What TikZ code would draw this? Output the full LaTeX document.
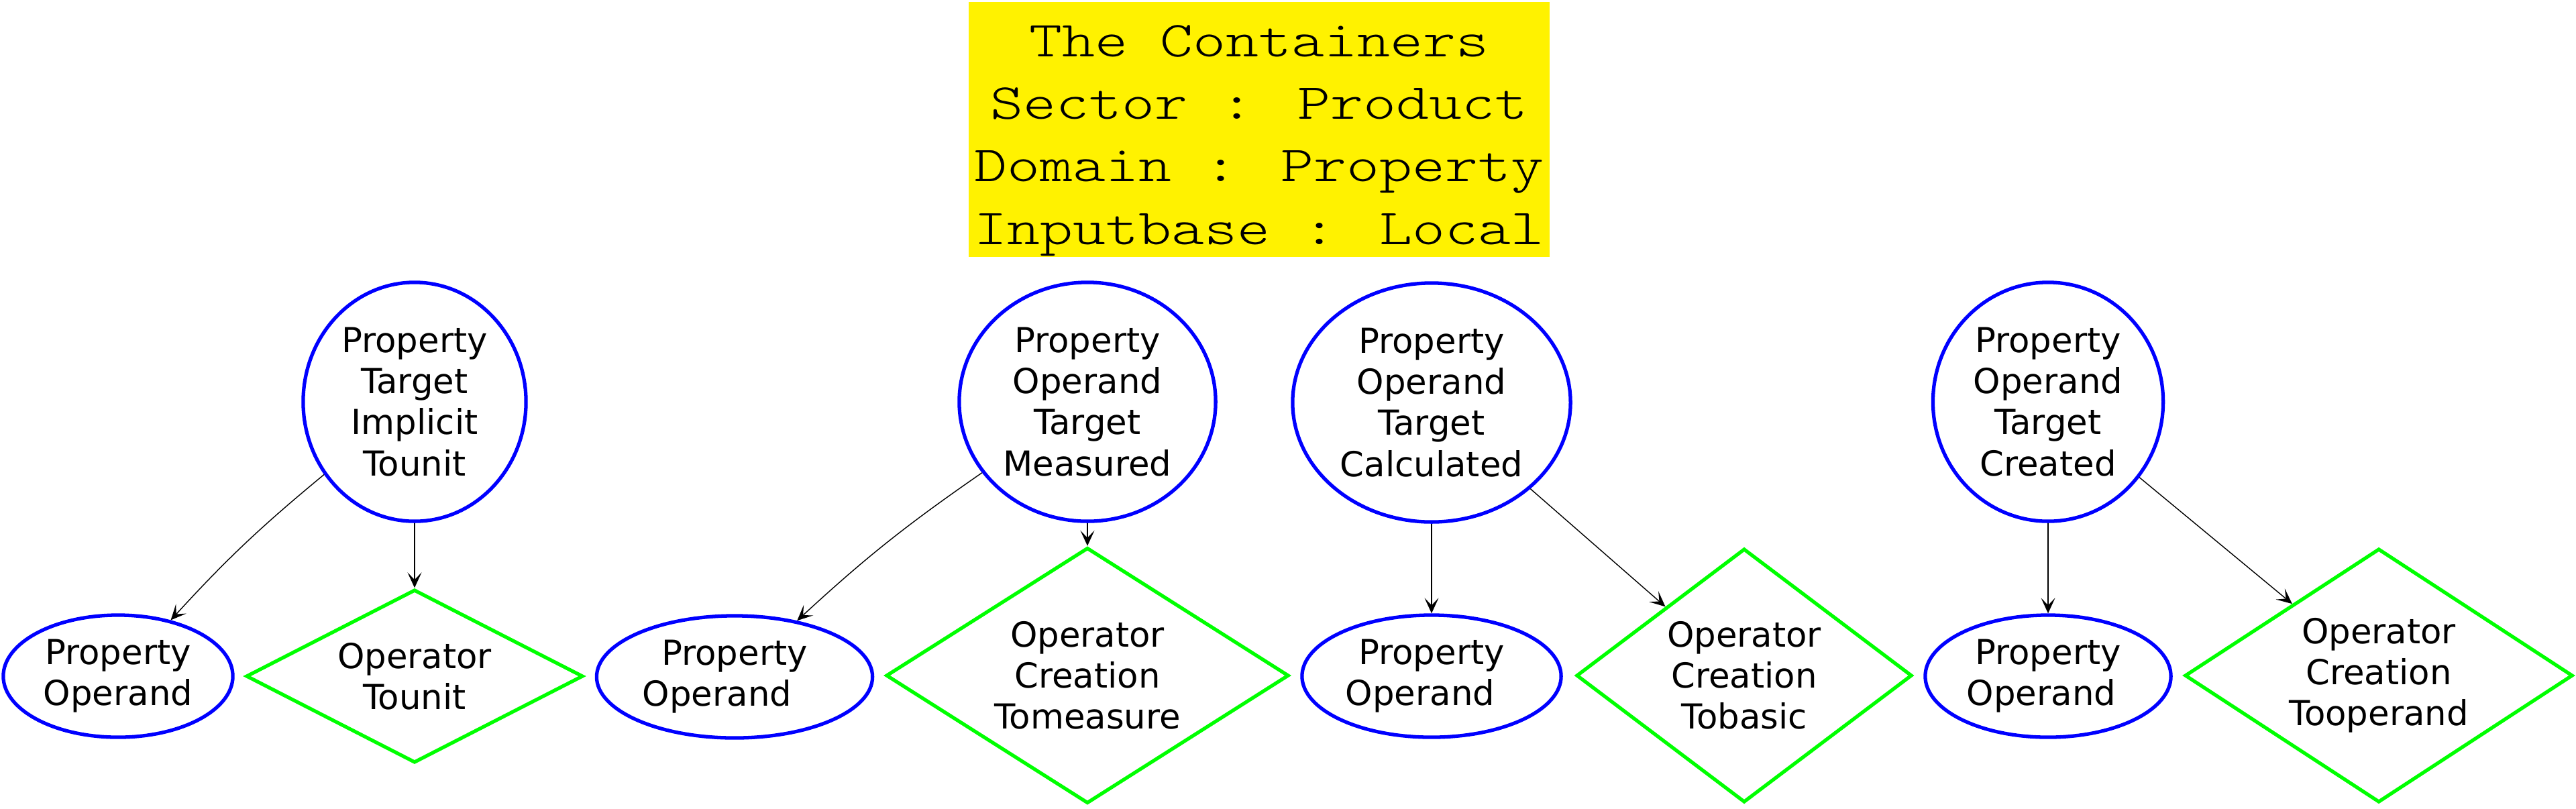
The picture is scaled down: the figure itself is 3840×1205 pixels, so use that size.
\documentclass[tikz,border=0pt]{standalone}
\usepackage{fontspec}
\setmainfont{DejaVu Sans}
\newfontfamily\titlefont{lmmonolt10-regular.otf}[FakeStretch=1.24]
\usetikzlibrary{shapes.geometric,arrows.meta}

\newcommand{\nodefont}{\fontsize{14.6pt}{17.4pt}\selectfont}
\newcommand{\headfont}{\titlefont\fontsize{21.4pt}{26.5pt}\selectfont}

\tikzstyle{header}=[rectangle, fill=yellow, inner sep=0pt, minimum width=8.65cm, minimum height=3.8cm, align=center, font=\headfont]
\tikzstyle{prop}=[ellipse, draw=blue, line width=1.5pt, inner sep=0pt, align=center, font=\nodefont]
\tikzstyle{oper}=[diamond, draw=green, line width=1.5pt, inner sep=0pt, align=center, font=\nodefont]
\tikzstyle{arrow}=[line width=0.4pt, -{Stealth[length=0.23cm, width=0.21cm, inset=0.11cm]}]

\begin{document}
\begin{tikzpicture}[x=0.01cm, y=-0.01cm]
\useasboundingbox (0,0) rectangle (3840,1205);
\node (title) [header] at (1877,193) {\rule{0pt}{0.8cm}The Containers\\Sector : Product\\Domain : Property\\Inputbase : Local};

\node (tgtA) [prop, minimum width=3.32cm, minimum height=3.56cm] at (618,599) {Property\\Target\\Implicit\\Tounit};
\node (opdA) [prop, minimum width=3.42cm, minimum height=1.82cm] at (176,1008) {Property\\Operand};
\node (optA) [oper, minimum width=5.02cm, minimum height=2.58cm, aspect=1.93] at (618,1008) {Operator\\Tounit};

\node (tgtB) [prop, minimum width=3.82cm, minimum height=3.56cm] at (1621,599) {Property\\Operand\\Target\\Measured};
\node (opdB) [prop, minimum width=4.11cm, minimum height=1.82cm] at (1095,1009) {Property\\Operand\hspace*{0.52cm}};
\node (optB) [oper, minimum width=6.0cm, minimum height=3.81cm, aspect=1.57] at (1621,1007) {Operator\\Creation\\Tomeasure};

\node (tgtC) [prop, minimum width=4.14cm, minimum height=3.56cm] at (2134,600) {Property\\Operand\\Target\\Calculated};
\node (opdC) [prop, minimum width=3.86cm, minimum height=1.82cm] at (2134,1008) {Property\\Operand\hspace*{0.34cm}};
\node (optC) [oper, minimum width=5.0cm, minimum height=3.78cm, aspect=1.32] at (2600,1007) {Operator\\Creation\\Tobasic};

\node (tgtD) [prop, minimum width=3.43cm, minimum height=3.56cm] at (3053,599) {Property\\Operand\\Target\\Created};
\node (opdD) [prop, minimum width=3.66cm, minimum height=1.82cm] at (3053,1008) {Property\\Operand\hspace*{0.2cm}};
\node (optD) [oper, minimum width=5.78cm, minimum height=3.78cm, aspect=1.52] at (3546,1007) {Operator\\Creation\\Tooperand};

\draw[arrow] (tgtA) to[bend right=4] (opdA);
\draw[arrow] (tgtA) -- (optA);
\draw[arrow] (tgtB) to[bend right=4] (opdB);
\draw[arrow] (tgtB) -- (optB);
\draw[arrow] (tgtC) -- (opdC);
\draw[arrow] (tgtC) -- (optC);
\draw[arrow] (tgtD) -- (opdD);
\draw[arrow] (tgtD) -- (optD);
\end{tikzpicture}
\end{document}
